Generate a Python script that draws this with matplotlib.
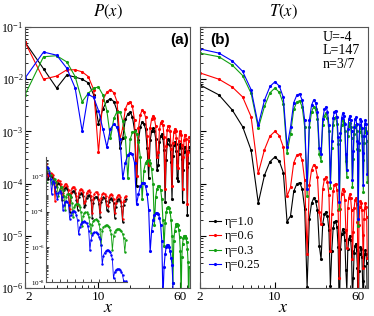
import matplotlib
matplotlib.use("Agg")
import matplotlib.pyplot as plt
import numpy as np
from matplotlib.ticker import FixedLocator, NullFormatter, LogLocator, MultipleLocator

plt.rcParams['font.family'] = 'serif'
plt.rcParams['font.serif'] = ['Liberation Serif', 'DejaVu Serif']
plt.rcParams['mathtext.fontset'] = 'stix'

etas = ["1.0", "0.6", "0.3", "0.25"]
colors = ["black", "red", "#12a012", "blue"]

# log10 of P(x), x = 2, 3, ... 73
p_black = [-1.29, -1.8, -2.17, -1.92, -1.96, -2.0, -2.07, -2.3,
           -2.85, -2.57, -2.42, -2.37, -2.43, -2.6, -3.32, -3.13,
           -2.77, -2.66, -2.63, -2.72, -2.98, -4.05, -3.17, -2.91,
           -2.82, -2.85, -2.96, -3.32, -3.89, -3.17, -3.0, -2.94,
           -2.99, -3.14, -3.74, -3.65, -3.21, -3.09, -3.05, -3.13,
           -3.35, -4.35, -3.54, -3.24, -3.15, -3.16, -3.26, -3.59,
           -4.3, -3.47, -3.27, -3.2, -3.24, -3.38, -3.9, -3.95,
           -3.43, -3.29, -3.25, -3.32, -3.52, -4.35, -3.73, -3.4,
           -3.3, -3.29, -3.38, -3.68, -4.6, -3.6, -3.38, -3.3]
p_red = [-1.29, -2.0, -1.94, -1.82, -1.82, -1.86, -1.95, -2.2,
         -3.4, -2.4, -2.25, -2.2, -2.26, -2.43, -3.15, -2.93,
         -2.57, -2.46, -2.43, -2.52, -2.78, -3.85, -2.94, -2.68,
         -2.59, -2.62, -2.73, -3.09, -3.65, -2.93, -2.76, -2.7,
         -2.75, -2.9, -3.5, -3.4, -2.96, -2.83, -2.8, -2.88,
         -3.1, -4.1, -3.28, -2.98, -2.89, -2.9, -3.0, -3.33,
         -4.05, -3.22, -3.02, -2.95, -2.99, -3.13, -3.65, -3.7,
         -3.18, -3.04, -3.0, -3.07, -3.27, -4.1, -3.5, -3.17,
         -3.07, -3.06, -3.15, -3.45, -4.4, -3.4, -3.18, -3.1]
p_green = [-2.3, -1.57, -1.55, -1.67, -1.95, -2.43, -2.27, -2.17,
           -2.15, -2.3, -2.6, -3.13, -2.75, -2.62, -2.62, -2.8,
           -3.1, -3.9, -3.15, -3.02, -3.0, -3.05, -3.2, -3.5,
           -4.3, -3.75, -3.6, -3.56, -3.55, -3.6, -3.72, -4.0,
           -4.8, -4.25, -4.1, -4.05, -4.05, -4.12, -4.3, -4.7,
           -5.2, -4.75, -4.55, -4.47, -4.45, -4.47, -4.55, -4.7,
           -5.0, -5.9, -5.1, -4.9, -4.82, -4.78, -4.78, -4.8,
           -4.88, -5.02, -5.3, -6.2, -5.4, -5.15, -5.05, -5.0,
           -5.0, -5.0, -5.05, -5.12, -5.25, -5.5, -6.3, -5.6]
p_blue = [-1.98, -1.48, -1.54, -1.79, -2.17, -3.0, -2.29, -2.35,
          -2.6, -2.95, -3.3, -2.95, -2.86, -2.92, -3.15, -3.9,
          -3.6, -3.45, -3.41, -3.43, -3.6, -4.4, -4.2, -4.05,
          -3.99, -3.99, -4.05, -4.2, -4.5, -5.3, -4.9, -4.7,
          -4.6, -4.57, -4.56, -4.58, -4.65, -4.8, -5.1, -6.2,
          -5.6, -5.35, -5.22, -5.18, -5.18, -5.22, -5.3, -5.42,
          -5.55, -5.9, -7.0, -6.5, -6.35, -6.25, -6.2, -6.2,
          -6.22, -6.3, -6.45, -6.7, -7.8, -7.45, -7.32, -7.28,
          -7.27, -7.28, -7.32, -7.42, -7.6, -7.95, -8.7, -7.95]

# log10 of T(x), x = 2, 3, ... 73
t_black = [-2.11, -2.3, -2.59, -2.91, -3.36, -4.37, -3.84, -3.58,
           -3.49, -3.57, -3.79, -4.73, -4.62, -4.15, -4.01, -3.98,
           -4.1, -4.49, -5.98, -4.67, -4.38, -4.28, -4.33, -4.51,
           -5.19, -5.45, -4.77, -4.59, -4.54, -4.63, -4.89, -5.97,
           -5.29, -4.86, -4.73, -4.71, -4.83, -5.22, -6.57, -5.26,
           -4.97, -4.87, -4.92, -5.08, -5.65, -6.04, -5.26, -5.07,
           -5.0, -5.08, -5.3, -6.24, -5.8, -5.33, -5.19, -5.15,
           -5.27, -5.61, -7.1, -5.68, -5.34, -5.22, -5.26, -5.4,
           -5.87, -6.51, -5.57, -5.35, -5.27, -5.34, -5.53, -6.31]
t_red = [-1.88, -2.0, -2.15, -2.34, -2.72, -3.8, -3.35, -3.09,
         -3.0, -3.08, -3.3, -4.24, -4.07, -3.6, -3.46, -3.43,
         -3.55, -3.94, -5.34, -4.03, -3.74, -3.64, -3.69, -3.87,
         -4.55, -4.78, -4.1, -3.92, -3.87, -3.96, -4.22, -5.3,
         -4.58, -4.15, -4.02, -4.0, -4.12, -4.51, -5.8, -4.49,
         -4.2, -4.1, -4.15, -4.31, -4.88, -5.24, -4.46, -4.27,
         -4.2, -4.28, -4.5, -5.44, -4.93, -4.46, -4.32, -4.28,
         -4.4, -4.74, -6.23, -4.79, -4.45, -4.33, -4.37, -4.51,
         -4.98, -5.62, -4.68, -4.46, -4.38, -4.45, -4.64, -5.42]
t_green = [-1.5, -1.57, -1.73, -1.93, -2.27, -2.94, -2.52, -2.26,
           -2.17, -2.25, -2.47, -3.41, -3.05, -2.58, -2.44, -2.41,
           -2.53, -2.92, -4.23, -2.92, -2.63, -2.53, -2.58, -2.76,
           -3.44, -3.56, -2.88, -2.7, -2.65, -2.74, -3.0, -4.08,
           -3.31, -2.88, -2.75, -2.73, -2.85, -3.24, -4.48, -3.17,
           -2.88, -2.78, -2.83, -2.99, -3.56, -3.87, -3.09, -2.9,
           -2.83, -2.91, -3.13, -4.07, -3.52, -3.05, -2.91, -2.87,
           -2.99, -3.33, -4.82, -3.36, -3.02, -2.9, -2.94, -3.08,
           -3.55, -4.17, -3.23, -3.01, -2.93, -3.0, -3.19, -3.97]
t_blue = [-1.42, -1.5, -1.65, -1.85, -2.2, -2.88, -2.4, -2.14,
          -2.05, -2.13, -2.35, -3.29, -2.92, -2.45, -2.31, -2.28,
          -2.4, -2.79, -4.1, -2.79, -2.5, -2.4, -2.45, -2.63,
          -3.31, -3.44, -2.76, -2.58, -2.53, -2.62, -2.88, -3.96,
          -3.18, -2.75, -2.62, -2.6, -2.72, -3.11, -4.35, -3.04,
          -2.75, -2.65, -2.7, -2.86, -3.43, -3.74, -2.96, -2.77,
          -2.7, -2.78, -3.0, -3.94, -3.38, -2.91, -2.77, -2.73,
          -2.85, -3.19, -4.68, -3.22, -2.88, -2.76, -2.8, -2.94,
          -3.41, -4.02, -3.08, -2.86, -2.78, -2.85, -3.04, -3.82]

p_data = [p_black, p_red, p_green, p_blue]
t_data = [t_black, t_red, t_green, t_blue]


def style_main(ax):
    ax.set_xscale("log")
    ax.set_yscale("log")
    ax.set_xlim(2, 74)
    ax.set_ylim(1e-6, 1e-1)
    ax.xaxis.set_major_locator(FixedLocator([2, 10, 60]))
    ax.set_xticklabels(["2", "10", "60"])
    ax.xaxis.set_minor_locator(FixedLocator([3, 4, 5, 6, 7, 8, 9, 20, 30, 40, 50, 70]))
    ax.xaxis.set_minor_formatter(NullFormatter())
    ax.yaxis.set_minor_locator(LogLocator(base=10, subs=np.arange(2, 10), numticks=20))
    ax.yaxis.set_minor_formatter(NullFormatter())
    ax.tick_params(which="both", direction="in", labelsize=8.5, pad=1)
    ax.tick_params(axis="x", labelsize=9.5, pad=2.5)
    ax.tick_params(which="major", length=4)
    ax.tick_params(which="minor", length=2)
    for s in ax.spines.values():
        s.set_color("#555555")


fig = plt.figure(figsize=(3.74, 3.16), dpi=100)
axP = fig.add_axes([0.0668, 0.0886, 0.441, 0.826])
axT = fig.add_axes([0.5348, 0.0886, 0.449, 0.826])

for vals, c in zip(p_data, colors):
    x = np.arange(2, 2 + len(vals))
    axP.plot(x, 10.0 ** np.array(vals), color=c, lw=0.8, marker=".", ms=2.5)

for vals, c, e in zip(t_data, colors, etas):
    x = np.arange(2, 2 + len(vals))
    axT.plot(x, 10.0 ** np.array(vals), color=c, lw=0.8, marker=".", ms=2.5,
             label="η=" + e)

style_main(axP)
style_main(axT)
axT.set_yticklabels([])
# keep the "2" clear of the 10^-6 label
axP.get_xticklabels()[0].set_horizontalalignment("left")
axP.get_xticklabels()[0].set_x(2.0)

axP.text(0.94, 0.95, "(a)", transform=axP.transAxes, ha="center", va="center",
         family="Liberation Sans", weight="bold", fontsize=11)
axT.text(0.12, 0.95, "(b)", transform=axT.transAxes, ha="center", va="center",
         family="Liberation Sans", weight="bold", fontsize=11)
axT.text(0.73, 0.985, "U=-4\nL=147\nn=3/7", transform=axT.transAxes, ha="left",
         va="top", fontsize=10, linespacing=1.05)

axT.legend(loc="lower left", bbox_to_anchor=(0.0, 0.03), frameon=False,
           fontsize=9, handlelength=1.0, handletextpad=0.3, labelspacing=0.2,
           borderpad=0.2)

fig.text(0.289, 0.962, "$P(x)$", ha="center", va="center", fontsize=12)
fig.text(0.757, 0.962, "$T(x)$", ha="center", va="center", fontsize=12)
fig.text(0.289, 0.026, "$x$", ha="center", va="center", fontsize=13)
fig.text(0.757, 0.026, "$x$", ha="center", va="center", fontsize=13)

# inset: same P(x) on a linear x axis
axI = fig.add_axes([0.123, 0.1076, 0.2166, 0.3956])
axI.patch.set_alpha(0)
for vals, c in zip(p_data, colors):
    x = np.arange(2, 2 + len(vals))
    axI.plot(x, 10.0 ** np.array(vals), color=c, lw=0.6, marker=".", ms=1.5)
axI.set_yscale("log")
axI.set_xlim(2, 74)
axI.set_ylim(1e-8, 10 ** -0.9)
axI.spines["top"].set_visible(False)
axI.spines["right"].set_visible(False)
axI.set_yticks([1e-2, 1e-4, 1e-6, 1e-8])
axI.yaxis.set_minor_locator(LogLocator(base=10, subs=np.arange(2, 10), numticks=30))
axI.yaxis.set_minor_formatter(NullFormatter())
axI.xaxis.set_major_locator(MultipleLocator(7))
axI.set_xticklabels([])
axI.tick_params(which="both", direction="in", labelsize=5, pad=1)
axI.tick_params(which="major", length=2.5, width=0.5)
axI.tick_params(which="minor", length=1.5, width=0.5)
for s in axI.spines.values():
    s.set_linewidth(0.8)
    s.set_color("#555555")

plt.savefig("out.png", dpi=100)
